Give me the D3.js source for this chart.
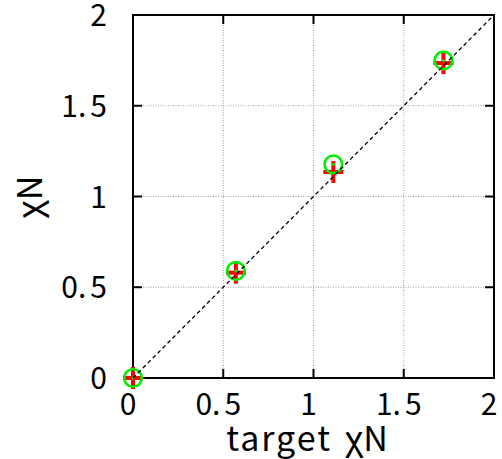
<!DOCTYPE html>
<html>
<head>
<meta charset="utf-8">
<script src="https://cdn.jsdelivr.net/npm/d3@7"></script>
<style>
  body { margin: 0; background: #fff; }
  svg text { font-family: "Noto Sans CJK JP", "Noto Sans", sans-serif; fill: #000; }
</style>
</head>
<body>
<div id="chart"></div>
<script>
const W = 502, H = 459;
const M = { left: 133, top: 15, right: 8, bottom: 81 };

// target values (x), simulated values (green circles), measured with error (red)
const targetX = [0, 0.57, 1.11, 1.72];
const greenY = [0, 0.59, 1.177, 1.75];
const redY = [0, 0.58, 1.135, 1.735];
const tickVals = [0, 0.5, 1, 1.5, 2];
const tickLabels = ["0", "0.5", "1", "1.5", "2"];

const iw = W - M.left - M.right;
const ih = H - M.top - M.bottom;

const x = d3.scaleLinear().domain([0, 2]).range([0, iw]);
const y = d3.scaleLinear().domain([0, 2]).range([ih, 0]);

const svg = d3.select("#chart").append("svg")
    .attr("width", W).attr("height", H);

const g = svg.append("g").attr("transform", `translate(${M.left},${M.top})`);

// grid
const inner = tickVals.slice(1, -1);
g.selectAll(".gx").data(inner).enter().append("line")
    .attr("x1", d => x(d)).attr("x2", d => x(d))
    .attr("y1", 0).attr("y2", ih)
    .attr("stroke", "#a0a0a0").attr("stroke-width", 1).attr("stroke-dasharray", "1,1.5");
g.selectAll(".gy").data(inner).enter().append("line")
    .attr("y1", d => y(d)).attr("y2", d => y(d))
    .attr("x1", 0).attr("x2", iw)
    .attr("stroke", "#a0a0a0").attr("stroke-width", 1).attr("stroke-dasharray", "1,1.5");

// ticks on all four sides, pointing inward
const TL = 9;
inner.forEach(d => {
    g.append("line").attr("x1", x(d)).attr("x2", x(d)).attr("y1", ih).attr("y2", ih - TL)
        .attr("stroke", "#000").attr("stroke-width", 2);
    g.append("line").attr("x1", x(d)).attr("x2", x(d)).attr("y1", 0).attr("y2", TL)
        .attr("stroke", "#000").attr("stroke-width", 2);
    g.append("line").attr("y1", y(d)).attr("y2", y(d)).attr("x1", 0).attr("x2", TL)
        .attr("stroke", "#000").attr("stroke-width", 2);
    g.append("line").attr("y1", y(d)).attr("y2", y(d)).attr("x1", iw).attr("x2", iw - TL)
        .attr("stroke", "#000").attr("stroke-width", 2);
});

// frame
g.append("rect").attr("width", iw).attr("height", ih)
    .attr("fill", "none").attr("stroke", "#000").attr("stroke-width", 2);

// tick labels: a small gap after the decimal point, as in the original
function tickText(sel) {
    sel.each(function(d, i) {
        const parts = tickLabels[i].split(".");
        const t = d3.select(this);
        if (parts.length === 1) {
            t.text(parts[0]);
        } else {
            t.append("tspan").text(parts[0] + ".");
            t.append("tspan").attr("dx", 4).text(parts[1]);
        }
    });
}
g.selectAll(".xl").data(tickVals).enter().append("text")
    .attr("x", d => x(d) - 5).attr("y", ih + 37)
    .attr("text-anchor", "middle").attr("font-size", 30)
    .call(tickText);
g.selectAll(".yl").data(tickVals).enter().append("text")
    .attr("x", -26).attr("y", d => y(d) + 11)
    .attr("text-anchor", "end").attr("font-size", 30)
    .call(tickText);

// red points with vertical error bars
const red = g.selectAll(".red").data(targetX).enter().append("g")
    .attr("transform", (d, i) => `translate(${x(d)},${y(redY[i])})`);
red.append("line").attr("x1", -10).attr("x2", 10).attr("y1", 0).attr("y2", 0)
    .attr("stroke", "#ff0000").attr("stroke-width", 4);
red.append("line").attr("x1", 0).attr("x2", 0).attr("y1", -11).attr("y2", 11)
    .attr("stroke", "#ff0000").attr("stroke-width", 4);

// green circles
const green = g.selectAll(".green").data(targetX).enter().append("g")
    .attr("transform", (d, i) => `translate(${x(d)},${y(greenY[i])})`);
green.append("circle").attr("r", 8.8)
    .attr("fill", "none").attr("stroke", "#00ee00").attr("stroke-width", 2.6);
green.append("circle").attr("r", 1.5).attr("fill", "#00ee00");

// y = x reference
g.append("line")
    .attr("x1", x(0)).attr("y1", y(0)).attr("x2", x(2)).attr("y2", y(2))
    .attr("stroke", "#000").attr("stroke-width", 1.3).attr("stroke-dasharray", "4,3");

// axis titles
const xt = svg.append("text")
    .attr("x", 307).attr("y", 451)
    .attr("text-anchor", "middle").attr("font-size", 34);
xt.append("tspan").attr("letter-spacing", 2).text("target");
xt.append("tspan").attr("dx", 13).text("χN");

svg.append("text")
    .attr("transform", "translate(42,197) rotate(-90)")
    .attr("text-anchor", "middle").attr("font-size", 34)
    .text("χN");
</script>
</body>
</html>
